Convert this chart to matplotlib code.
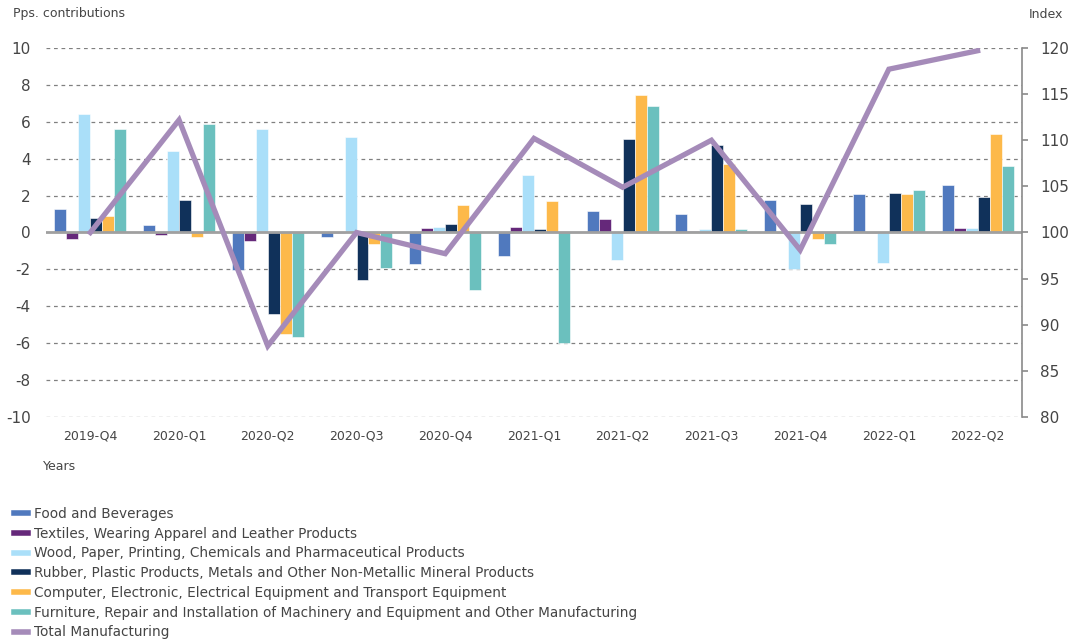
import matplotlib
matplotlib.use("Agg")
import matplotlib.pyplot as plt
import numpy as np
from matplotlib.lines import Line2D

plt.rcParams['font.family'] = ['DejaVu Sans']
plt.rcParams['axes.unicode_minus'] = False

quarters = ['2019-Q4', '2020-Q1', '2020-Q2', '2020-Q3', '2020-Q4', '2021-Q1',
            '2021-Q2', '2021-Q3', '2021-Q4', '2022-Q1', '2022-Q2']

food = [1.25, 0.43, -2.04, -0.25, -1.72, -1.28, 1.16, 1.01, 1.77, 2.08, 2.58]
textiles = [-0.33, -0.16, -0.47, -0.05, 0.22, 0.28, 0.74, 0.08, -0.05, -0.05, 0.22]
wood = [6.4, 4.44, 5.6, 5.16, 0.31, 3.14, -1.47, 0.2, -2.0, -1.65, 0.27]
rubber = [0.81, 1.75, -4.44, -2.6, 0.45, 0.18, 5.04, 4.75, 1.55, 2.15, 1.95]
computer = [0.88, -0.24, -5.49, -0.62, 1.5, 1.73, 7.44, 3.73, -0.36, 2.08, 5.35]
furniture = [5.63, 5.9, -5.67, -1.95, -3.13, -6.0, 6.86, 0.2, -0.61, 2.31, 3.61]
total = [100.0, 112.2, 87.7, 100.0, 97.7, 110.2, 104.9, 110.0, 98.1, 117.7, 119.7]

series = [
    ('Food and Beverages', food, '#5079BE'),
    ('Textiles, Wearing Apparel and Leather Products', textiles, '#65287A'),
    ('Wood, Paper, Printing, Chemicals and Pharmaceutical Products', wood, '#AADFF9'),
    ('Rubber, Plastic Products, Metals and Other Non-Metallic Mineral Products', rubber, '#10315A'),
    ('Computer, Electronic, Electrical Equipment and Transport Equipment', computer, '#FDB94A'),
    ('Furniture, Repair and Installation of Machinery and Equipment and Other Manufacturing', furniture, '#6BC0BE'),
]
total_label = 'Total Manufacturing'
line_color = '#A58BB9'
text_color = '#454545'

fig = plt.figure(figsize=(10.69, 6.44), dpi=100)
ax = fig.add_axes([0.043, 0.3525, 0.913, 0.573])
ax2 = ax.twinx()

x = np.arange(len(quarters))
w = 0.135
for i, (name, vals, col) in enumerate(series):
    ax.bar(x + (i - 2.5) * w, vals, width=w, color=col, edgecolor='white',
           linewidth=0.4, zorder=3)

ax2.plot(x, total, color=line_color, lw=3.8, solid_joinstyle='miter', zorder=5)

ax.set_xlim(-0.5, 10.5)
ax.set_ylim(-10, 10)
ax2.set_ylim(80, 120)
ax.set_yticks(np.arange(-10, 11, 2))
ax2.set_yticks(np.arange(80, 121, 5))
ax.set_xticks(x)
ax.set_xticklabels(quarters)

for y in np.arange(-10, 11, 2):
    if y != 0:
        ax.axhline(y, color='#808080', lw=0.9, ls=(0, (3, 3)), zorder=1)
ax.axhline(0, color='#a0a0a0', lw=2, zorder=4)

for s in ['top', 'left', 'bottom']:
    ax.spines[s].set_visible(False)
    ax2.spines[s].set_visible(False)
ax.spines['right'].set_visible(False)
ax2.spines['right'].set_color('#8a8a8a')
ax2.spines['right'].set_linewidth(1.2)

ax.tick_params(axis='y', length=0, pad=11, labelsize=11, labelcolor=text_color)
ax.tick_params(axis='x', length=0, pad=9, labelsize=9, labelcolor=text_color)
ax2.tick_params(axis='y', length=4, width=1.2, color='#8a8a8a', pad=9,
                labelsize=11, labelcolor=text_color)

fig.text(13 / 1069, 1 - 14 / 644, 'Pps. contributions', fontsize=9,
         color=text_color, va='center', ha='left')
fig.text(1029 / 1069, 1 - 14 / 644, 'Index', fontsize=9,
         color=text_color, va='center', ha='left')
fig.text(43 / 1069, 1 - 466 / 644, 'Years', fontsize=9,
         color=text_color, va='center', ha='left')

handles = [Line2D([0], [0], color=c, lw=4) for _, _, c in series]
handles.append(Line2D([0], [0], color=line_color, lw=4))
labels = [n for n, _, _ in series] + [total_label]
fig.legend(handles, labels, loc='upper left', bbox_to_anchor=(0.013, 1 - 507 / 644),
           frameon=False, fontsize=9.8, handlelength=1.05, handletextpad=0.4,
           labelspacing=0.42, borderaxespad=0, borderpad=0, labelcolor=text_color)

fig.savefig('out.png', dpi=100)
